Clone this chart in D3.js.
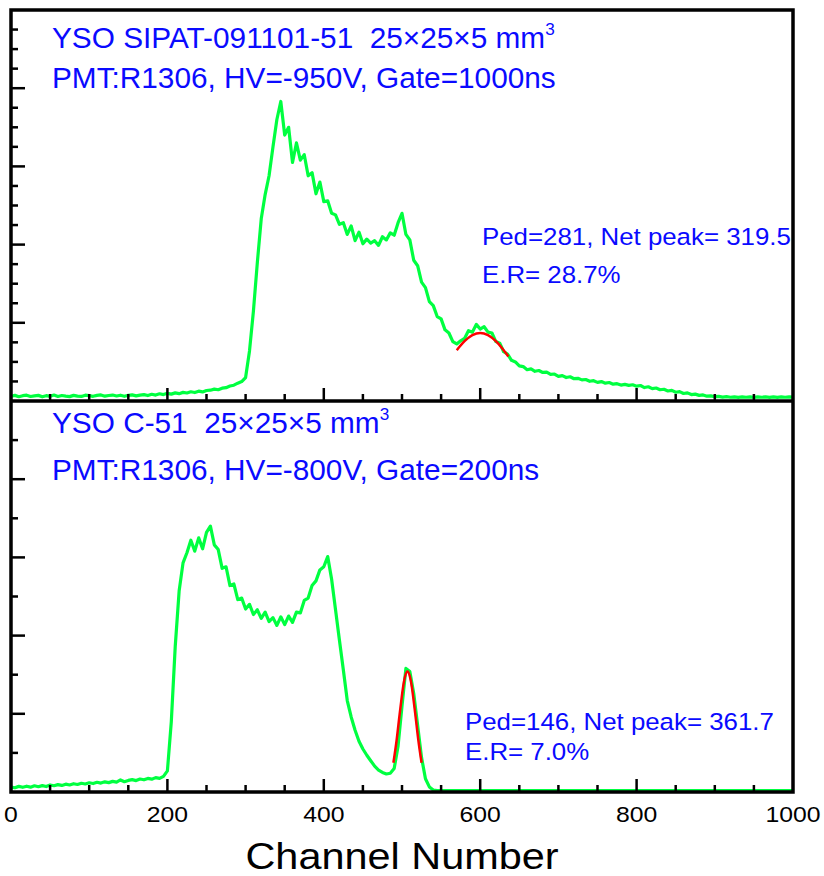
<!DOCTYPE html>
<html><head><meta charset="utf-8">
<script src="https://cdn.jsdelivr.net/npm/d3@7"></script>
<style>html,body{margin:0;padding:0;background:#fff;} text{white-space:pre;}</style>
</head><body>
<svg id="chart" width="824" height="876"></svg>
<script>
// ---- data (counts per channel, 5-channel steps) ----
const xTickLabels = ["0","200","400","600","800","1000"];
const xTickValues = [0,200,400,600,800,1000];

const topCounts = [
 60,72,55,68,74,58,66,72,54,68,60,76,58,70,62,56,72,62,58,74,
 68,60,72,78,62,70,76,64,74,60,72,78,66,76,82,70,86,76,92,82,
 98,88,104,94,110,102,118,108,126,116,134,138,152,144,164,170,192,202,228,248,
 300,640,1150,1770,2330,2640,2880,3250,3600,3830,3400,3500,3050,3300,3080,3150,2880,2920,2650,2800,
 2550,2560,2400,2380,2260,2280,2130,2240,2050,2160,2010,2070,2020,2050,1990,2100,2060,2150,2120,2280,
 2400,2130,2060,1800,1730,1520,1450,1270,1220,1080,1050,910,870,760,730,770,800,900,880,980,
 920,950,880,870,760,740,630,600,520,500,450,440,400,410,380,390,365,370,340,345,
 315,325,300,310,285,290,270,275,252,260,238,248,228,236,215,222,204,212,200,208,
 190,198,172,182,158,166,144,150,128,136,112,120,96,104,82,88,72,78,62,66,
 55,60,50,55,48,53,47,52,48,53,46,52,48,53,47,52,46,52,48,53,
 50
];
const topFitChannels = [570,580,590,600,610,620,630,636];
const topFitCounts   = [650,765,842,870,842,765,650,570];

const bottomCounts = [
 64,54,72,60,74,62,80,68,82,70,90,80,94,84,100,90,106,96,112,102,
 118,108,124,114,130,120,136,126,154,132,148,158,146,166,156,174,164,184,174,200,
 270,900,1860,2570,2930,3060,3220,3080,3250,3110,3320,3400,3160,3100,2860,2880,2640,2660,2460,2480,
 2340,2400,2270,2330,2220,2300,2180,2230,2130,2240,2140,2250,2170,2300,2290,2450,2480,2640,2700,2840,
 2880,3010,2720,2330,1940,1560,1170,960,790,650,550,470,400,330,280,250,230,240,300,590,
 1100,1580,1540,1260,850,440,170,65,25
];
const bottomTailChannels = [545,600,700,800,900,1000];
const bottomTailCounts   = [18,18,18,18,18,18];
const bottomFitChannels = [489,493,497,501,504,507,510,513,517,521,525];
const bottomFitCounts   = [374,654,995,1316,1480,1540,1480,1316,995,654,374];

const topTitle1 = "YSO SIPAT-091101-51  25×25×5 mm";
const topTitle2 = "PMT:R1306, HV=-950V, Gate=1000ns";
const topNote1 = "Ped=281, Net peak= 319.5";
const topNote2 = "E.R= 28.7%";
const botTitle1 = "YSO C-51  25×25×5 mm";
const botTitle2 = "PMT:R1306, HV=-800V, Gate=200ns";
const botNote1 = "Ped=146, Net peak= 361.7";
const botNote2 = "E.R= 7.0%";
const xTitle = "Channel Number";

// ---- layout ----
const svg = d3.select("#chart");
const L = 11, R = 793, T = 10, M = 401, B = 792;
const x = d3.scaleLinear().domain([0,1000]).range([L,R]);
const yTop = d3.scaleLinear().domain([0,5000]).range([M,T]);
const yBot = d3.scaleLinear().domain([0,5000]).range([B,M]);

const GREEN = "#00ff40", BLUE = "#0a0aff", RED = "#ff0000";
const FONT = "'Liberation Sans', Arial, sans-serif";

svg.append("rect").attr("width",824).attr("height",876).attr("fill","#fff");

const topData = topCounts.map((v,i)=>[i*5, v]);
const botData = bottomCounts.map((v,i)=>[i*5, v])
  .concat(bottomTailChannels.map((c,i)=>[c, bottomTailCounts[i]]));

svg.append("defs").html(
  `<clipPath id="cTop"><rect x="${L}" y="${T}" width="${R-L}" height="${M-T}"/></clipPath>
   <clipPath id="cBot"><rect x="${L}" y="${M}" width="${R-L}" height="${B-M}"/></clipPath>`);

function drawLine(data, y, color, w, clip, curve){
  svg.append("path").datum(data)
    .attr("clip-path", `url(#${clip})`)
    .attr("fill","none").attr("stroke",color).attr("stroke-width",w)
    .attr("stroke-linejoin","round")
    .attr("d", d3.line().x(d=>x(d[0])).y(d=>y(d[1])).curve(curve||d3.curveLinear));
}
drawLine(topData, yTop, GREEN, 3.2, "cTop");
drawLine(topFitChannels.map((c,i)=>[c,topFitCounts[i]]), yTop, RED, 2.5, "cTop", d3.curveCardinal);
drawLine(botData, yBot, GREEN, 3.2, "cBot");
drawLine(bottomFitChannels.map((c,i)=>[c,bottomFitCounts[i]]), yBot, RED, 2.5, "cBot", d3.curveCardinal);

// ---- ticks ----
function xTicks(base){
  const g = svg.append("g");
  d3.range(50,1000,50).forEach(c=>{
    const major = c % 200 === 0;
    g.append("line").attr("x1",x(c)).attr("x2",x(c))
      .attr("y1",base).attr("y2",base-(major?13:7))
      .attr("stroke","#000").attr("stroke-width",2.5);
  });
}
xTicks(M); xTicks(B);
function yTicks(scale, step, majorStep){
  const g = svg.append("g");
  d3.range(step, 5000, step).forEach(v=>{
    const major = v % majorStep === 0;
    g.append("line").attr("x1",L).attr("x2",L+(major?14:7))
      .attr("y1",scale(v)).attr("y2",scale(v))
      .attr("stroke","#000").attr("stroke-width",2.5);
  });
}
yTicks(yTop, 250, 1000);
yTicks(yBot, 500, 1000);

// ---- frame ----
svg.append("rect").attr("x",L).attr("y",T).attr("width",R-L).attr("height",B-T)
  .attr("fill","none").attr("stroke","#000").attr("stroke-width",3.5);
svg.append("line").attr("x1",L).attr("x2",R).attr("y1",M).attr("y2",M)
  .attr("stroke","#000").attr("stroke-width",3.5);

// ---- tick labels ----
xTickValues.forEach((v,i)=>{
  svg.append("text").attr("transform",`translate(${x(v)},822) scale(1.1,1)`)
    .attr("text-anchor","middle").attr("font-family",FONT).attr("font-size",22.5)
    .attr("fill","#000").text(xTickLabels[i]);
});
svg.append("text").attr("transform",`translate(402,869) scale(1.12,1)`)
  .attr("text-anchor","middle").attr("font-family",FONT).attr("font-size",37)
  .attr("fill","#000").text(xTitle);

// ---- panel texts ----
function title(t1, t2, y1, y2){
  const tx = svg.append("text").attr("transform",`translate(52,${y1}) scale(1.01,1)`)
    .attr("font-family",FONT).attr("font-size",29.5).attr("fill",BLUE);
  tx.append("tspan").text(t1);
  tx.append("tspan").attr("dy",-13).attr("font-size",17).text("3");
  svg.append("text").attr("transform",`translate(52,${y2}) scale(1.01,1)`)
    .attr("font-family",FONT).attr("font-size",29.5).attr("fill",BLUE).text(t2);
}
title(topTitle1, topTitle2, 48, 88);
title(botTitle1, botTitle2, 433, 480);

function note(t1, t2, x0, y1, y2){
  [[t1,y1],[t2,y2]].forEach(([t,yy])=>{
    svg.append("text").attr("transform",`translate(${x0},${yy}) scale(1.1,1)`)
      .attr("font-family",FONT).attr("font-size",23.5).attr("fill",BLUE).text(t);
  });
}
note(topNote1, topNote2, 482, 245, 283);
note(botNote1, botNote2, 465, 730, 760);
</script>
</body></html>
